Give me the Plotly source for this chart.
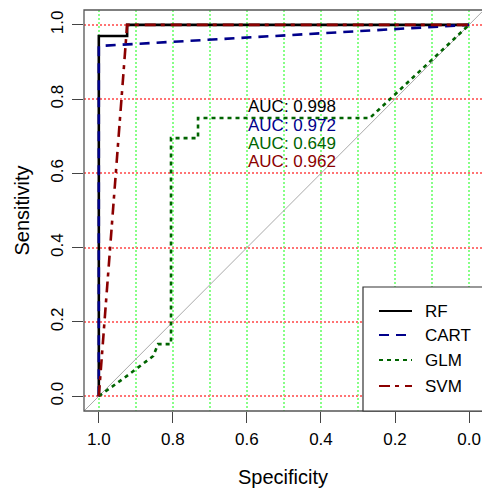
import plotly.graph_objects as go

# ROC curves (specificity on a reversed x axis, sensitivity on y)
rf_spec = [1.0, 1.0, 0.9235, 0.9235, 0.0]
rf_sens = [0.0, 0.970, 0.970, 1.0, 1.0]

cart_spec = [1.0, 1.0, 0.0]
cart_sens = [0.0, 0.943, 1.0]

glm_spec = [1.0, 0.93, 0.853, 0.840, 0.805, 0.805, 0.732, 0.732, 0.268, 0.0]
glm_sens = [0.0, 0.05, 0.108, 0.140, 0.140, 0.695, 0.695, 0.749, 0.749, 1.0]

svm_spec = [1.0, 0.9235, 0.0]
svm_sens = [0.0, 1.0, 1.0]

models = ["RF", "CART", "GLM", "SVM"]
auc_values = [0.998, 0.972, 0.649, 0.962]
auc_text_y = [0.779, 0.730, 0.680, 0.631]
colors = ["#000000", "#00008B", "#006400", "#8B0000"]
dashes = ["solid", "10px,7px", "4px,4px", "11px,5px,4px,6px"]

tick_vals = [0.0, 0.2, 0.4, 0.6, 0.8, 1.0]
x_range = [1.04, -0.035]
y_range = [-0.04, 1.04]

FONT = "Liberation Sans, Arial, sans-serif"

fig = go.Figure()

curves = [(rf_spec, rf_sens), (cart_spec, cart_sens),
          (glm_spec, glm_sens), (svm_spec, svm_sens)]
for name, (xs, ys), col, dsh in zip(models, curves, colors, dashes):
    fig.add_trace(go.Scatter(
        x=xs, y=ys, mode="lines", name=name,
        line=dict(color=col, width=2.6, dash=dsh),
        showlegend=False, hoverinfo="skip",
    ))

# identity (chance) line
fig.add_shape(type="line", xref="x", yref="y", layer="between",
              x0=x_range[0], y0=1 - x_range[0],
              x1=x_range[1], y1=1 - x_range[1],
              line=dict(color="#A9A9A9", width=1))

# AUC labels
for val, ty, col in zip(auc_values, auc_text_y, colors):
    fig.add_annotation(x=0.603, y=ty, xref="x", yref="y",
                       text=f"AUC: {val:.3f}", showarrow=False,
                       xanchor="left", yanchor="middle",
                       font=dict(family=FONT, size=17, color=col))

# plot frame (right side lies just outside the canvas)
fig.add_shape(type="rect", xref="paper", yref="paper", layer="above",
              x0=0, y0=0, x1=1.01, y1=1,
              line=dict(color="#555555", width=1.3), fillcolor="rgba(0,0,0,0)")

# legend box
W, H, L, T, B = 482, 492, 84, 10, 81
pw, ph = W - L, H - T - B


def px_x(p):
    return (p - L) / pw


def px_y(p):
    return (H - B - p) / ph


fig.add_shape(type="rect", xref="paper", yref="paper", layer="above",
              x0=px_x(363), x1=px_x(490), y0=px_y(411), y1=px_y(287),
              line=dict(color="#333333", width=1.2), fillcolor="white")
row_y = [311, 335, 360, 386]
for name, col, dsh, ry in zip(models, colors, dashes, row_y):
    fig.add_shape(type="line", xref="paper", yref="paper", layer="above",
                  x0=px_x(379), x1=px_x(412), y0=px_y(ry), y1=px_y(ry),
                  line=dict(color=col, width=2.2, dash=dsh))
    fig.add_annotation(x=px_x(423), y=px_y(ry), xref="paper", yref="paper",
                       text=name, showarrow=False, xanchor="left",
                       yanchor="middle",
                       font=dict(family=FONT, size=17, color="black"))

grid_dash = "2px,2px"
grid_w = 2
green = "rgb(135,255,135)"
red = "rgb(255,115,115)"
fig.update_layout(
    width=W, height=H,
    margin=dict(l=L, r=0, t=T, b=B, autoexpand=False),
    paper_bgcolor="white", plot_bgcolor="white",
    font=dict(family=FONT, size=17, color="black"),
    showlegend=False,
    xaxis=dict(
        range=x_range, tickvals=tick_vals, tickformat=".1f",
        ticks="outside", ticklen=11, tickwidth=1, tickcolor="#444444",
        showline=False, zeroline=False,
        showgrid=True, gridcolor=green, gridwidth=grid_w, griddash=grid_dash,
        minor=dict(dtick=0.1, tick0=0, showgrid=True, gridcolor=green,
                   gridwidth=grid_w, griddash=grid_dash),
        title=dict(text="Specificity", standoff=21),
        automargin=False, ticklabelstandoff=2,
    ),
    yaxis=dict(
        range=y_range, tickvals=tick_vals, tickformat=".1f",
        ticks="outside", ticklen=11, tickwidth=1, tickcolor="#444444",
        showline=False, zeroline=False, tickangle=-90,
        showgrid=True, gridcolor=red, gridwidth=grid_w, griddash=grid_dash,
        title=dict(text="Sensitivity", standoff=13),
        automargin=False, ticklabelstandoff=2,
    ),
)

fig.write_html("out.html")
